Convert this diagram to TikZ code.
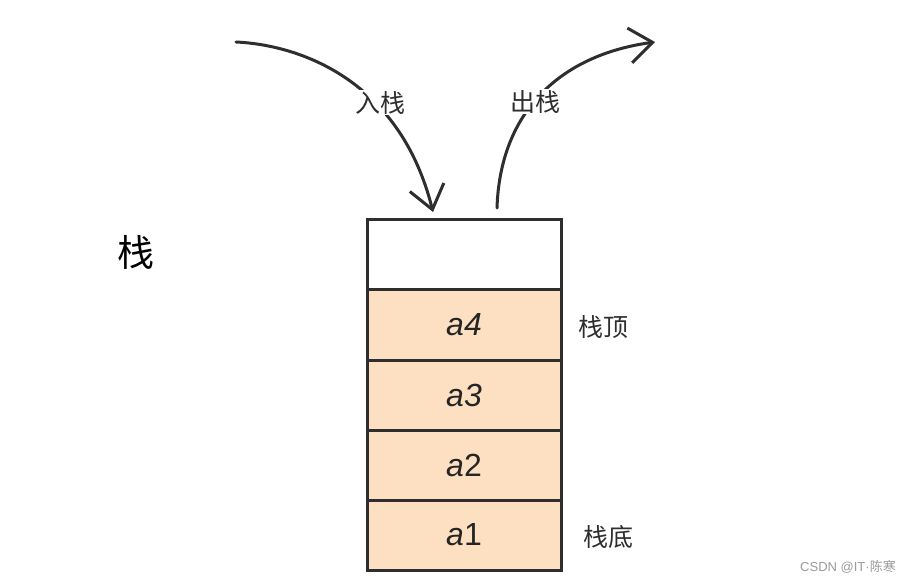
\documentclass[tikz,border=0pt]{standalone}
\usepackage{fontspec}
\setmainfont{Liberation Sans}
\newfontfamily\cjk{Noto Sans CJK SC}
\usetikzlibrary{arrows.meta}
\definecolor{peach}{HTML}{FDE0C2}
\definecolor{ink}{HTML}{2E2E2E}
\definecolor{wm}{HTML}{9A9A9A}
\tikzset{
  cell/.style={draw=ink, line width=3pt, minimum width=194pt, minimum height=70pt, inner sep=0pt, font=\fontsize{32}{32}\selectfont, text=ink!80!black},
  full/.style={cell, fill=peach},
  flow/.style={draw=ink, line width=3pt, line cap=round, line join=round, -{Straight Barb[length=23pt,width=35pt]}},
  lbl/.style={font=\cjk\fontsize{25}{25}\selectfont, text=ink, inner sep=1pt},
}
\begin{document}
\begin{tikzpicture}[x=1pt,y=-1pt]
\useasboundingbox[fill=white] (0,0) rectangle (913,585);
\node[cell, fill=white] (top) at (464,255) {};
\node[full] (a4) at (464,325) {\itshape a4};
\node[full] (a3) at (464,395) {\itshape a3};
\node[full] (a2) at (464,465) {{\itshape a}2};
\node[full] (a1) at (464,535) {{\itshape a}1};
\coordinate (inS) at (236,42);
\coordinate (inE) at (433,212);
\coordinate (outS) at (497,208);
\coordinate (outE) at (655,42);
\draw[flow] (inS) .. controls (300,45) and (400,80) .. (inE);
\draw[flow] (outS) .. controls (500,112) and (560,55) .. (outE);
\node[lbl, fill=white] (push) at (380,103) {入栈};
\node[lbl, fill=white] (pop) at (535,102) {出栈};
\node[font=\cjk\fontsize{37}{37}\selectfont, text=black] (title) at (136,252) {栈};
\node[lbl] (topl) at (603,327) {栈顶};
\node[lbl] (botl) at (608,537) {栈底};
\node[text=wm, font=\fontsize{13}{13}\selectfont, inner sep=0pt] (mark) at (848,567) {CSDN @IT·{\cjk 陈寒}};
\end{tikzpicture}
\end{document}
